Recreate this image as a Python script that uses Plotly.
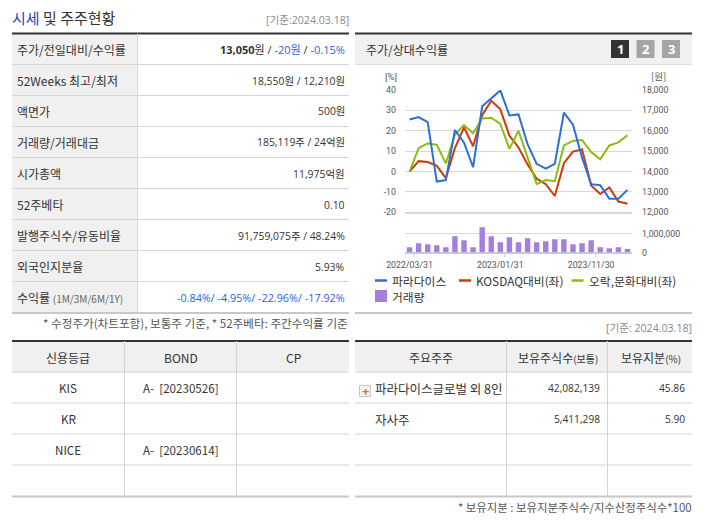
import plotly.graph_objects as go

W, H = 702, 525
KR = "Noto Sans CJK KR"
NUM = "Open Sans, Noto Sans CJK KR"
TICK = "Roboto, Noto Sans CJK KR"
BLUE = "#1a66e6"
DARK = "#333333"
LINE = "#d4d4d4"
THICK = "#c8c8c8"
HEAD = "#f0f0f0"

# chart data
dates = ["2022/03/31", "2022/04/30", "2022/05/31", "2022/06/30", "2022/07/31", "2022/08/31", "2022/09/30",
         "2022/10/31", "2022/11/30", "2022/12/31", "2023/01/31", "2023/02/28", "2023/03/31", "2023/04/30",
         "2023/05/31", "2023/06/30", "2023/07/31", "2023/08/31", "2023/09/30", "2023/10/31", "2023/11/30",
         "2023/12/31", "2024/01/31", "2024/02/29", "2024/03/18"]
price = [16550, 16670, 16420, 13510, 13580, 16040, 15420, 14210, 17200, 17580, 17980, 16750, 16800,
         15340, 14380, 14140, 14380, 16890, 16300, 14680, 13380, 13330, 12670, 12670, 13100]
kosdaq = [0, 5.1, 4.7, 2.8, -3.2, 11.5, 21.6, 12.4, 27.6, 34.7, 30.5, 17.6, 11.8, 3.5, -3.5, -6.2, -12,
          4.1, 9.8, 10.8, -6.8, -11, -7.8, -14.7, -15.8]
leisure = [0, 11.5, 13.8, 13.1, 4, 18.1, 22.8, 18.8, 26, 26.4, 23.4, 11.1, 20, 6.8, -6.2, -4.2, -4.7,
           12.8, 15, 15.5, 9.6, 6, 12.8, 14.3, 17.8]
volume = [280000, 490000, 440000, 385000, 280000, 860000, 650000, 280000, 1330000, 860000, 545000, 805000,
          545000, 755000, 545000, 595000, 700000, 700000, 440000, 490000, 650000, 280000, 230000, 280000, 185119]
date_ticks = ["2022/03/31", "2023/01/31", "2023/11/30"]
pct_ticks = [40, 30, 20, 10, 0, -10, -20]
won_ticks = [18000, 17000, 16000, 15000, 14000, 13000, 12000]
vol_ticks = [0, 1000000]
names = ["파라다이스", "KOSDAQ대비(좌)", "오락,문화대비(좌)", "거래량"]
colors = ["#2a6fdb", "#cf3a0c", "#8cbb12", "#a67fdd"]

# table text
info_labels = ["주가/전일대비/수익률", "52Weeks 최고/최저", "액면가", "거래량/거래대금", "시가총액", "52주베타",
               "발행주식수/유동비율", "외국인지분율",
               "수익률 <span style='font-size:10px;color:#666666'>(1M/3M/6M/1Y)</span>"]
info_values = ["<b>13,050</b>원 / <span style='color:%s'>-20원</span> / <span style='color:%s'>-0.15%%</span>" % (BLUE, BLUE),
               "18,550원 / 12,210원", "500원", "185,119주 / 24억원", "11,975억원", "0.10",
               "91,759,075주 / 48.24%", "5.93%",
               "<span style='color:%s'>-0.84%%/ -4.95%%/ -22.96%%/ -17.92%%</span>" % BLUE]
info_sizes = [11, 10.4, 10.4, 10.4, 10.4, 10.4, 10.4, 10.4, 10.8]
credit_head = ["신용등급", "BOND", "CP"]
credit_rows = [["KIS", "A-  [20230526]", ""], ["KR", "", ""], ["NICE", "A-  [20230614]", ""], ["", "", ""]]
holder_head = ["주요주주", "보유주식수<span style='font-size:10px'>(보통)</span>", "보유지분<span style='font-size:10px'>(%)</span>"]
holder_rows = [["파라다이스글로벌 외 8인", "42,082,139", "45.86"], ["자사주", "5,411,298", "5.90"], ["", "", ""], ["", "", ""]]

fig = go.Figure()


def px(x):
    return x / W


def py(y):
    return 1 - y / H


def text(x, y, s, size=11, color=DARK, anchor="left", family=NUM):
    fig.add_annotation(x=px(x), y=py(y), xref="paper", yref="paper", text=s, showarrow=False,
                       xanchor=anchor, yanchor="middle", borderpad=0, borderwidth=0,
                       font=dict(size=size, color=color, family=family))


def hline(x0, x1, y, color=LINE, width=1):
    fig.add_shape(type="line", xref="paper", yref="paper", x0=px(x0), x1=px(x1), y0=py(y), y1=py(y),
                  line=dict(color=color, width=width))


def vline(x, y0, y1, color=LINE, width=1):
    fig.add_shape(type="line", xref="paper", yref="paper", x0=px(x), x1=px(x), y0=py(y0), y1=py(y1),
                  line=dict(color=color, width=width))


def box(x0, y0, x1, y1, fill, line=None):
    fig.add_shape(type="rect", xref="paper", yref="paper", x0=px(x0), x1=px(x1), y0=py(y0), y1=py(y1),
                  fillcolor=fill, line=dict(color=line or fill, width=1 if line else 0), layer="below")


# lines and bars
fig.add_trace(go.Scatter(x=dates, y=kosdaq, name=names[1], mode="lines", line=dict(color=colors[1], width=2),
                         xaxis="x", yaxis="y"))
fig.add_trace(go.Scatter(x=dates, y=leisure, name=names[2], mode="lines", line=dict(color=colors[2], width=2),
                         xaxis="x", yaxis="y"))
fig.add_trace(go.Scatter(x=dates, y=price, name=names[0], mode="lines", line=dict(color=colors[0], width=2),
                         xaxis="x", yaxis="y2"))
fig.add_trace(go.Bar(x=dates, y=volume, name=names[3], marker=dict(color=colors[3], line=dict(width=0)),
                     xaxis="x2", yaxis="y3"))

# title row
text(12, 18, "<span style='color:#1f45b5'>시세</span> 및 주주현황", size=15, family=KR)
text(349, 20, "[기준:2024.03.18]", size=10.6, color="#888888", anchor="right")

# info table
top, row_h = 33.5, 31
box(12, top, 137.5, top + row_h * 9, HEAD)
hline(12, 349, top, color=DARK, width=2)
vline(137.5, top, top + row_h * 9)
for i in range(9):
    y = top + row_h * i
    text(16.5, y + 16, info_labels[i], size=12, family=KR)
    text(345, y + 16, info_values[i], size=info_sizes[i], anchor="right")
    if i < 8:
        hline(12, 349, y + row_h)
hline(12, 349, top + row_h * 9 + 0.5, color=THICK, width=2)
text(348, 323, "* 수정주가(차트포함), 보통주 기준, * 52주베타: 주간수익률 기준", size=11.6, color="#555555", anchor="right", family=KR)

# credit table
top2 = 341
box(12, top2, 349, top2 + row_h, HEAD)
hline(12, 349, top2, color=DARK, width=2)
for x in [124.5, 236.5]:
    vline(x, top2, top2 + row_h * 5)
for x, s in zip([68, 180.5, 293], credit_head):
    text(x, top2 + 16, s, size=12, anchor="center", family=KR)
for i, row in enumerate(credit_rows):
    y = top2 + row_h * (i + 1)
    hline(12, 349, y)
    for x, s in zip([68, 180.5, 293], row):
        if s:
            text(x, y + 16, s, size=11.6, anchor="center", family=KR)
hline(12, 349, top2 + row_h * 5 + 0.5, color=THICK, width=2)

# chart panel
box(355, 33.5, 692, 64, HEAD)
hline(355, 692, 33.5, color=DARK, width=2)
hline(355, 692, 64.5, color="#dddddd")
text(366, 49, "주가/상대수익률", size=12, family=KR)
for i, (x, c) in enumerate(zip([611, 636.5, 662], ["#333333", "#a5a5a5", "#a5a5a5"])):
    box(x, 40, x + 18, 58, c)
    text(x + 9, 49, "<b>%d</b>" % (i + 1), size=13, color="white", anchor="center")
hline(355, 692, 313, color=THICK, width=2)
text(391, 76, "[%]", size=9.5, color="#555555", anchor="center", family=TICK)
text(658, 76, "[원]", size=9.5, color="#555555", anchor="center", family=KR)

# x axis marks at the band edges, as the chart draws them
for d in date_ticks:
    fig.add_shape(type="line", xref="x2", yref="paper", x0=dates.index(d) + 0.5, x1=dates.index(d) + 0.5,
                  y0=py(252.5), y1=py(257), line=dict(color="#c0d0e0", width=1))
fig.add_shape(type="line", xref="x2", yref="paper", x0=-0.5, x1=-0.5, y0=py(252.5), y1=py(257),
              line=dict(color="#c0d0e0", width=1))
hline(405, 632, 213.5, color="#d8d8d8")

# legend
for x, name, c in zip([375, 459, 571.5], names[:3], colors[:3]):
    hline(x, x + 12, 280.5, color=c, width=2.5)
    text(x + 17, 280.5, name, size=11.8, family=KR)
box(375, 290, 387, 302, colors[3])
text(392, 296.5, names[3], size=11.8, family=KR)

# holders table
text(692, 328, "[기준: 2024.03.18]", size=10.6, color="#888888", anchor="right")
box(355, top2, 692, top2 + row_h, HEAD)
hline(355, 692, top2, color=DARK, width=2)
for x in [506.5, 607.5]:
    vline(x, top2, top2 + row_h * 5)
for x, s in zip([431, 558, 651], holder_head):
    text(x, top2 + 16, s, size=12, anchor="center", family=KR)
for i, row in enumerate(holder_rows):
    y = top2 + row_h * (i + 1)
    hline(355, 692, y)
    if row[0]:
        text(375, y + 16, row[0], size=12.5, family=KR)
        text(600, y + 16, row[1], size=10.2, anchor="right")
        text(685, y + 16, row[2], size=10.2, anchor="right")
hline(355, 692, top2 + row_h * 5 + 0.5, color=THICK, width=2)
box(359.5, 385.5, 370.5, 396.5, "#f4f4f4", "#c4c4c4")
text(365, 391, "<b>+</b>", size=13, color="#f26a10", anchor="center")
text(692, 507, "* 보유지분 : 보유지분주식수/지수산정주식수*100", size=11.4, color="#555555", anchor="right", family=KR)

tick_font = dict(size=8.8, color="#555555", family=TICK)
fig.update_layout(
    width=W, height=H, margin=dict(l=0, r=0, t=0, b=0), autosize=False,
    paper_bgcolor="white", plot_bgcolor="white", showlegend=False, bargap=0.4,
    font=dict(family=NUM, size=10, color="#555555"),
    xaxis=dict(domain=[px(405), px(632)], range=[-0.5, 24.5], type="category", categoryorder="array",
               categoryarray=dates, anchor="y", visible=False, automargin=False),
    xaxis2=dict(domain=[px(405), px(632)], range=[-0.5, 24.5], type="category", categoryorder="array",
                categoryarray=dates, anchor="y3", tickmode="array", tickvals=date_ticks, ticktext=date_ticks,
                tickangle=0, ticks="", showgrid=False, showline=False, ticklabelstandoff=6, automargin=False,
                tickfont=tick_font),
    yaxis=dict(domain=[py(213.5), py(90)], range=[-20.58, 40], tickmode="array", tickvals=pct_ticks,
               ticktext=[str(v) for v in pct_ticks], showgrid=True, gridcolor="#d8d8d8", gridwidth=1,
               zeroline=False, ticks="", ticklabelstandoff=8, anchor="x", automargin=False, tickfont=tick_font),
    yaxis2=dict(domain=[py(213.5), py(90)], range=[11942, 18000], tickmode="array", tickvals=won_ticks,
                side="right", overlaying="y", showgrid=False, zeroline=False, ticks="", ticklabelstandoff=9,
                tickformat=",d", anchor="x", automargin=False, tickfont=tick_font),
    yaxis3=dict(domain=[py(252.5), py(225)], range=[0, 1447000], tickmode="array", tickvals=vol_ticks,
                side="right", showgrid=True, gridcolor="#d8d8d8", zeroline=True, zerolinecolor="#c0d0e0",
                ticks="", ticklabelstandoff=9, tickformat=",d", anchor="x2", automargin=False,
                tickfont=tick_font),
)

fig.write_html("out.html", config={"displayModeBar": False}, post_script="document.body.style.margin='0';")
